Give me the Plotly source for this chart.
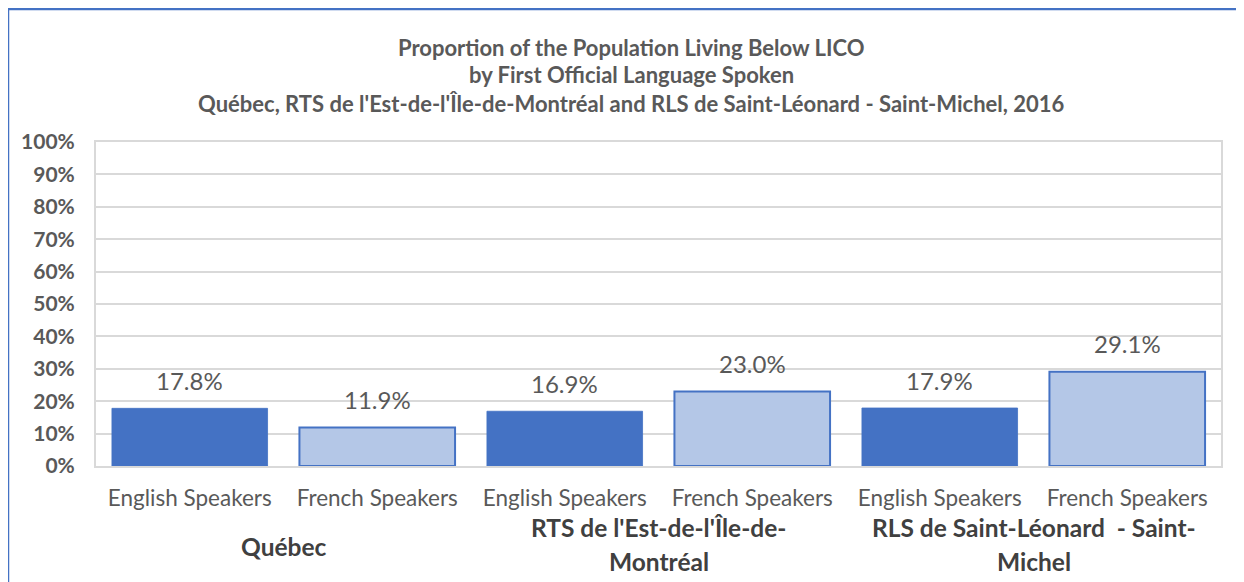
import plotly.graph_objects as go

groups = ["Québec", "RTS de l'Est-de-l'Île-de-Montréal", "RLS de Saint-Léonard  - Saint-Michel"]
group_lines = [["Québec"], ["RTS de l'Est-de-l'Île-de-", "Montréal"], ["RLS de Saint-Léonard  - Saint-", "Michel"]]
languages = ["English Speakers", "French Speakers"]
values = [17.8, 11.9, 16.9, 23.0, 17.9, 29.1]
y_ticks = [0, 10, 20, 30, 40, 50, 60, 70, 80, 90, 100]
title_lines = [
    "Proportion of the Population Living Below LICO",
    "by First Official Language Spoken",
    "Québec, RTS de l'Est-de-l'Île-de-Montréal and RLS de Saint-Léonard - Saint-Michel, 2016",
]

DARK = "#4472C4"
LIGHT = "#B4C7E7"
TXT = "#595959"
FONT = "Lato"

cats = [lang for g in groups for lang in languages]
xs = list(range(len(values)))
colors = [DARK if i % 2 == 0 else LIGHT for i in xs]
line_w = [0.8 if i % 2 == 0 else 2 for i in xs]

# page offset (body margin of the html page)
OFF = 8
# target page pixel geometry of plot area
L, R, T, B = 96 - OFF, 1221 - OFF, 142 - OFF, 466 - OFF
W, H = 1244 - OFF, 582 - OFF
pw, ph = R - L, B - T


def px_x(xp):
    return (xp - OFF - L) / pw


def px_y(yp):
    return (B - (yp - OFF)) / ph


fig = go.Figure()
fig.add_trace(go.Bar(
    x=xs, y=values,
    marker=dict(color=colors, line=dict(color=DARK, width=line_w)),
    hoverinfo="skip",
))

annotations = []
for i, v in zip(xs, values):
    annotations.append(dict(
        x=i, y=v, xref="x", yref="y", text=f"{v:.1f}%", showarrow=False,
        yshift=28, font=dict(family=FONT, size=24, color=TXT),
    ))

# title lines
title_y_px = [47, 75, 104]
for t, ypx in zip(title_lines, title_y_px):
    annotations.append(dict(
        x=px_x(631), xref="paper", y=px_y(ypx), yref="paper", text=f"<b>{t}</b>",
        showarrow=False, font=dict(family=FONT, size=22, color=TXT),
        xanchor="center", yanchor="middle",
    ))

# group labels
for gi, lines in enumerate(group_lines):
    xc = gi * 2 + 0.5
    ys = [546] if len(lines) == 1 else [527, 561]
    for ln, ypx in zip(lines, ys):
        annotations.append(dict(
            x=xc, xref="x", y=px_y(ypx), yref="paper", text=f"<b>{ln}</b>",
            showarrow=False, font=dict(family=FONT, size=24.5, color="#404040"),
            xanchor="center", yanchor="middle",
        ))

shapes = [
    dict(type="line", xref="paper", yref="paper", x0=px_x(8), x1=px_x(8), y0=px_y(600), y1=px_y(9),
         line=dict(color=DARK, width=2.5)),
    dict(type="line", xref="paper", yref="paper", x0=px_x(8), x1=px_x(1260), y0=px_y(9), y1=px_y(9),
         line=dict(color=DARK, width=2.5)),
]

fig.update_layout(
    width=W, height=H,
    margin=dict(l=L, r=W - R, t=T, b=H - B, autoexpand=False),
    paper_bgcolor="white", plot_bgcolor="white",
    showlegend=False,
    bargap=0.17,
    annotations=annotations,
    shapes=shapes,
    font=dict(family=FONT, color=TXT),
    xaxis=dict(
        tickmode="array", tickvals=xs, ticktext=cats, range=[-0.5, 5.5],
        showgrid=False, zeroline=False, showline=True, mirror=True,
        linecolor="#D9D9D9", linewidth=2, ticks="",
        tickfont=dict(family=FONT, size=22.5, color=TXT), ticklabelstandoff=11,
    ),
    yaxis=dict(
        range=[0, 100], tickmode="array", tickvals=y_ticks,
        ticktext=[f"<b>{t}%</b>" for t in y_ticks],
        showgrid=True, gridcolor="#D9D9D9", gridwidth=1.5, zeroline=False,
        showline=True, mirror=True, linecolor="#D9D9D9", linewidth=2, ticks="",
        tickfont=dict(family=FONT, size=21, color=TXT), ticklabelstandoff=15,
    ),
)

fig.write_html("out.html")
